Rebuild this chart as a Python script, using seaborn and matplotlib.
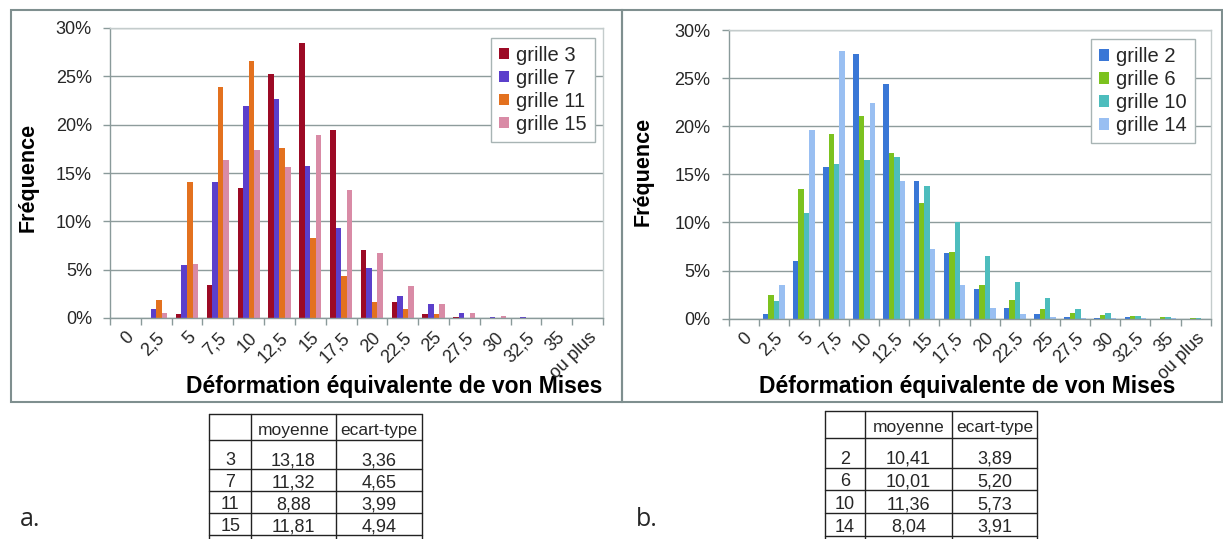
import numpy as np
import pandas as pd
import matplotlib
matplotlib.use("Agg")
import matplotlib.pyplot as plt
import seaborn as sns
from matplotlib.ticker import PercentFormatter, FixedLocator
from matplotlib.patches import Rectangle

# ---------------- data ----------------
categories = ['0', '2,5', '5', '7,5', '10', '12,5', '15', '17,5', '20',
              '22,5', '25', '27,5', '30', '32,5', '35', 'ou plus']

# panel a (frequency in %)
grille_3 = [0, 0, 0.4, 3.4, 13.5, 25.2, 28.4, 19.5, 7.0, 1.7, 0.45, 0.1, 0.0, 0.0, 0, 0]
grille_7 = [0, 0.9, 5.45, 14.1, 21.9, 22.7, 15.7, 9.3, 5.2, 2.3, 1.5, 0.5, 0.1, 0.1, 0, 0]
grille_11 = [0, 1.9, 14.1, 23.9, 26.6, 17.6, 8.3, 4.35, 1.7, 0.9, 0.4, 0.05, 0, 0, 0, 0]
grille_15 = [0, 0.55, 5.55, 16.3, 17.4, 15.6, 18.95, 13.2, 6.7, 3.3, 1.4, 0.5, 0.2, 0, 0, 0]

# panel b (frequency in %)
grille_2 = [0, 0.5, 5.95, 15.8, 27.5, 24.4, 14.3, 6.8, 3.1, 1.15, 0.5, 0.2, 0.1, 0.15, 0, 0]
grille_6 = [0, 2.45, 13.5, 19.2, 21.1, 17.2, 12.0, 6.9, 3.5, 1.9, 1.05, 0.6, 0.35, 0.3, 0.2, 0.1]
grille_10 = [0, 1.8, 11.0, 16.1, 16.5, 16.8, 13.8, 10.0, 6.5, 3.85, 2.2, 1.0, 0.6, 0.3, 0.2, 0.1]
grille_14 = [0, 3.5, 19.65, 27.8, 22.4, 14.3, 7.2, 3.45, 1.15, 0.5, 0.2, 0.1, 0.05, 0.05, 0.1, 0]

series_a_names = ['grille 3', 'grille 7', 'grille 11', 'grille 15']
series_b_names = ['grille 2', 'grille 6', 'grille 10', 'grille 14']
colors_a = ['#9c0a25', '#5b3fcb', '#e3711f', '#d98ba6']
colors_b = ['#3a77d6', '#7cc21f', '#4dbdbd', '#99bff2']

yticks = [0, 5, 10, 15, 20, 25, 30]

# stats tables
table_a_ids = ['3', '7', '11', '15']
table_a_moy = ['13,18', '11,32', '8,88', '11,81']
table_a_std = ['3,36', '4,65', '3,99', '4,94']
table_b_ids = ['2', '6', '10', '14']
table_b_moy = ['10,41', '10,01', '11,36', '8,04']
table_b_std = ['3,89', '5,20', '5,73', '3,91']
table_header = ['', 'moyenne', 'ecart-type']

# ---------------- style ----------------
sns.set_style('white')
plt.rcParams['font.family'] = ['Liberation Sans', 'DejaVu Sans']

W, H = 1223, 539
fig = plt.figure(figsize=(W / 100, H / 100), dpi=100)

GRID = '#8e9c9c'
SPINE = '#8a9a9a'
LIGHT = '#c4cccc'


def px_axes(x0, y0, x1, y1):
    return fig.add_axes([x0 / W, 1 - y1 / H, (x1 - x0) / W, (y1 - y0) / H])


def make_df(series, names):
    rows = []
    for name, vals in zip(names, series):
        for c, v in zip(categories, vals):
            rows.append({'cat': c, 'val': v, 'grille': name})
    return pd.DataFrame(rows)


def draw_panel(ax, df, names, colors, legend_anchor):
    sns.barplot(data=df, x='cat', y='val', hue='grille', order=categories,
                hue_order=names, palette=colors, width=0.72, gap=0,
                errorbar=None, ax=ax, linewidth=0, saturation=1)
    ax.set_xlim(-0.5, len(categories) - 0.5)
    ax.set_ylim(0, 30)
    ax.yaxis.set_major_locator(FixedLocator(yticks))
    ax.yaxis.set_major_formatter(PercentFormatter(xmax=100, decimals=0))
    ax.set_xlabel('')
    ax.set_ylabel('')
    ax.set_axisbelow(True)
    ax.grid(axis='y', color=GRID, linewidth=1.0)
    ax.grid(axis='x', visible=False)
    for s in ['left', 'bottom']:
        ax.spines[s].set_color(SPINE)
        ax.spines[s].set_linewidth(1.0)
    for s in ['top', 'right']:
        ax.spines[s].set_color(LIGHT)
        ax.spines[s].set_linewidth(1.0)
    ax.tick_params(axis='y', left=True, length=5, width=1, color=SPINE,
                   labelsize=13, pad=8, direction='out')
    # category labels centred, tick marks at category boundaries
    ax.tick_params(axis='x', which='major', length=0, labelsize=13, pad=8)
    ax.set_xticks(np.arange(-0.5, len(categories), 1.0), minor=True)
    ax.tick_params(axis='x', which='minor', bottom=True, length=5, width=1,
                   color=SPINE, direction='out')
    for lab in ax.get_xticklabels():
        lab.set_rotation(45)
        lab.set_ha('right')
        lab.set_va('top')
        lab.set_rotation_mode('anchor')
    handles, labels = ax.get_legend_handles_labels()
    leg = ax.legend(handles, labels, loc='upper right',
                    bbox_to_anchor=legend_anchor, bbox_transform=fig.transFigure,
                    borderaxespad=0, fontsize=14.5, frameon=True, fancybox=False,
                    edgecolor='#a8b4b4', framealpha=1, handlelength=0.5,
                    handleheight=0.5, handletextpad=0.35, labelspacing=0.2,
                    borderpad=0.4)
    leg.get_frame().set_linewidth(1.0)


# ---------------- panel frames ----------------
bg = fig.add_axes([0, 0, 1, 1])
bg.set_xlim(0, W)
bg.set_ylim(H, 0)
bg.axis('off')
bg.add_patch(Rectangle((10.5, 10), 611.5, 392, fill=False, edgecolor='#7f8f8f', lw=1.5))
bg.add_patch(Rectangle((622, 10), 600, 392, fill=False, edgecolor='#7f8f8f', lw=1.5))

# ---------------- charts ----------------
ax_a = px_axes(110, 28, 603, 318)
draw_panel(ax_a, make_df([grille_3, grille_7, grille_11, grille_15], series_a_names),
           series_a_names, colors_a, (595 / W, 1 - 37.7 / H))

ax_b = px_axes(728.5, 30, 1210.7, 318.7)
draw_panel(ax_b, make_df([grille_2, grille_6, grille_10, grille_14], series_b_names),
           series_b_names, colors_b, (1195 / W, 1 - 39 / H))

# axis titles
bold = dict(fontweight='bold', color='black')
bg.text(394, 387, 'Déformation équivalente de von Mises', ha='center', va='center',
        fontsize=16.5, **bold)
bg.text(967, 387, 'Déformation équivalente de von Mises', ha='center', va='center',
        fontsize=16.5, **bold)
bg.text(28, 177, 'Fréquence', rotation=90, ha='center', va='center', fontsize=15.5, **bold)
bg.text(643, 171, 'Fréquence', rotation=90, ha='center', va='center', fontsize=15.5, **bold)


# ---------------- tables ----------------
def draw_table(xs, ys, ids, moy, std):
    for x in xs:
        bg.plot([x, x], [ys[0], H + 2], color='#222222', lw=1.0, clip_on=False)
    for y in ys:
        bg.plot([xs[0], xs[-1]], [y, y], color='#222222', lw=1.0)
    centers = [(xs[i] + xs[i + 1]) / 2 for i in range(3)]
    for c, t in zip(centers, table_header):
        bg.text(c, ys[1] - 5.5, t, ha='center', va='baseline', fontsize=12.5)
    for r, row in enumerate(zip(ids, moy, std)):
        base = ys[r + 2] - 4 if r + 2 < len(ys) else H + 12
        for c, t in zip(centers, row):
            bg.text(c, base, t, ha='center', va='baseline', fontsize=13)


draw_table([209.3, 251, 335.7, 422.3], [414.3, 440.3, 469, 491, 513.3, 535],
           table_a_ids, table_a_moy, table_a_std)
draw_table([825, 865, 951.7, 1037.3], [411, 437.7, 467.7, 490.3, 513.3, 536],
           table_b_ids, table_b_moy, table_b_std)

bg.text(20, 520, 'a.', ha='left', va='center', fontsize=18, family=['Open Sans', 'DejaVu Sans'])
bg.text(636, 520, 'b.', ha='left', va='center', fontsize=18, family=['Open Sans', 'DejaVu Sans'])

fig.savefig('out.png', dpi=100)
